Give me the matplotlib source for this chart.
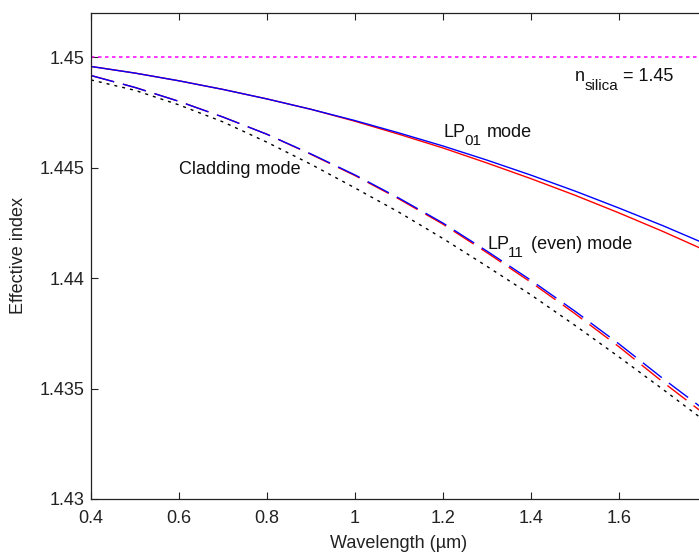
import matplotlib
matplotlib.use("Agg")
import matplotlib.pyplot as plt
from matplotlib.transforms import offset_copy

plt.rcParams['font.family'] = ['Liberation Sans', 'DejaVu Sans']
plt.rcParams['lines.scale_dashes'] = False

# Wavelength samples (µm)
wavelength = [0.4, 0.5, 0.6, 0.7, 0.8, 0.9, 1.0, 1.1, 1.2, 1.3, 1.4, 1.5, 1.6, 1.7, 1.8]

# Effective indices of the guided modes and the cladding
lp01_blue = [1.44958, 1.44928, 1.44893, 1.44854, 1.44811, 1.44764, 1.44713, 1.44657,
             1.44598, 1.44534, 1.44466, 1.44394, 1.44317, 1.44237, 1.44152]
lp01_red = [1.44958, 1.44928, 1.44893, 1.44854, 1.44811, 1.44764, 1.44710, 1.44651,
            1.44589, 1.44521, 1.44450, 1.44375, 1.44295, 1.44211, 1.44122]
lp11_blue = [1.44917, 1.44863, 1.44800, 1.44729, 1.44651, 1.44562, 1.44467, 1.44362,
             1.44249, 1.44122, 1.43990, 1.43850, 1.43702, 1.43545, 1.43395]
lp11_red = [1.44917, 1.44863, 1.44800, 1.44729, 1.44651, 1.44560, 1.44464, 1.44358,
            1.44244, 1.44115, 1.43981, 1.43839, 1.43689, 1.43529, 1.43376]
cladding = [1.44897, 1.44850, 1.44784, 1.44707, 1.44615, 1.44515, 1.44408, 1.44298,
            1.44179, 1.44053, 1.43924, 1.43786, 1.43643, 1.43496, 1.43346]
n_silica = 1.45

xticks = [0.4, 0.6, 0.8, 1.0, 1.2, 1.4, 1.6, 1.8]
xticklabels = ['0.4', '0.6', '0.8', '1', '1.2', '1.4', '1.6', '']
yticks = [1.43, 1.435, 1.44, 1.445, 1.45]
yticklabels = ['1.43', '1.435', '1.44', '1.445', '1.45']

W, H = 699, 553
PT = 72.0 / 100  # points per pixel at 100 dpi
fig = plt.figure(figsize=(W / 100, H / 100), dpi=100)
ax = fig.add_axes([91 / W, 1 - 499 / H, 616 / W, 486 / H])

lw = 1.0
dash = (0, (24 * PT, 9 * PT))
ax.plot([wavelength[0], wavelength[-1]], [n_silica, n_silica], color='#ff00ff',
        lw=1.1, linestyle=(0, (3.5 * PT, 3.5 * PT)))
ax.plot(wavelength, cladding, color='black', lw=lw, linestyle=(0, (3 * PT, 5 * PT)))
ax.plot(wavelength, lp11_red, color='#ff0000', lw=lw, linestyle=dash)
ax.plot(wavelength, lp11_blue, color='#0000ff', lw=lw, linestyle=dash)
ax.plot(wavelength, lp01_red, color='#ff0000', lw=lw)
ax.plot(wavelength, lp01_blue, color='#0000ff', lw=lw)

ax.set_xlim(0.4, 1.8)
ax.set_ylim(1.43, 1.452)
ax.set_xticks(xticks)
ax.set_xticklabels(xticklabels)
ax.set_yticks(yticks)
ax.set_yticklabels(yticklabels)

fs = 13
sub_fs = 11
axis_col = '#222222'
ax.tick_params(direction='in', length=7 * PT, width=0.8, top=True, right=True,
               labelsize=fs, colors=axis_col)
ax.tick_params(axis='x', pad=11 * PT)
ax.tick_params(axis='y', pad=6.7 * PT)
for s in ax.spines.values():
    s.set_color(axis_col)
    s.set_linewidth(0.9)

ax.set_xlabel('Wavelength (µm)', fontsize=fs, color=axis_col)
ax.xaxis.set_label_coords(0.5, -(548 - 499) / 486)
ax.xaxis.label.set_verticalalignment('baseline')
ax.set_ylabel('Effective index', fontsize=fs, color=axis_col)
ax.yaxis.set_label_coords(-(91 - 18.5) / 616, 0.5)
ax.yaxis.label.set_verticalalignment('center')

tc = '#111111'
renderer = fig.canvas.get_renderer()


def label(x, y, pieces):
    """Lay out text pieces left to right from a data-space baseline point.
    Each piece is (text, fontsize, baseline shift in px, gap before it in px)."""
    dx = 0.0
    for s, size, dy, gap in pieces:
        dx += gap
        tr = offset_copy(ax.transData, fig=fig, x=dx, y=dy, units='dots')
        t = ax.text(x, y, s, fontsize=size, color=tc, transform=tr,
                    ha='left', va='baseline')
        dx += t.get_window_extent(renderer).width


label(0.6, 1.44471, [('Cladding mode', fs, 0, 0)])
label(1.2, 1.44639, [('LP', fs, 0, 0), ('01', sub_fs, -8, -1), ('mode', fs, 0, 6)])
label(1.3, 1.44133, [('LP', fs, 0, 0), ('11', sub_fs, -8.5, -1), ('(even) mode', fs, 0, 7)])
label(1.5, 1.44894, [('n', fs, 0, 0), ('silica', sub_fs, -9, 0), ('= 1.45', fs, 0, 4)])

fig.savefig('out.png', dpi=100)
